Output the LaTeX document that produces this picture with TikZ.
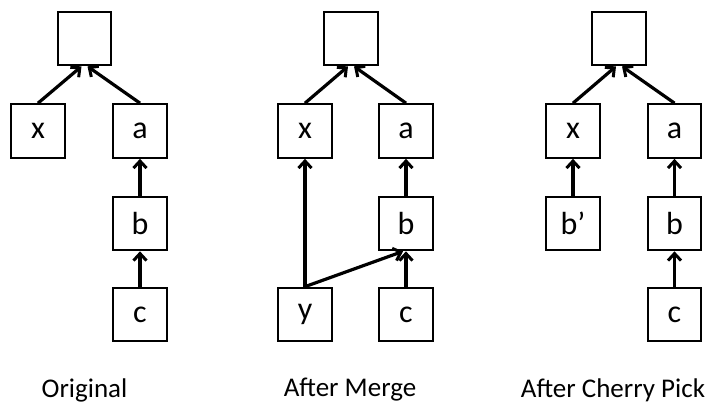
\documentclass[tikz,border=0pt]{standalone}
\usepackage{fontspec}
\setmainfont{Carlito}
\usetikzlibrary{arrows.meta}
\tikzset{
  commit/.style={draw, line width=2.2pt, minimum size=53.5pt, inner sep=0pt,
    font=\fontsize{32}{34}\selectfont},
  link/.style={line width=3.2pt, -{Straight Barb[length=7pt,width=13pt,line width=3pt]}},
  caption/.style={font=\fontsize{27}{30}\selectfont, inner sep=0pt}
}
\begin{document}
\begin{tikzpicture}[x=1pt,y=-1pt]
\useasboundingbox (0,0) rectangle (715,405);

% Original
\node[commit] (t1) at (84.5,38.5) {};
\node[commit] (x1) at (38,131) {x};
\node[commit] (a1) at (140,131) {a};
\node[commit] (b1) at (140,223.5) {b};
\node[commit] (c1) at (140,314.5) {c};
\draw[link] (x1.north) -- ([xshift=-3pt]t1.south);
\draw[link] (a1.north) -- ([xshift=3pt]t1.south);
\draw[link] (b1.north) -- (a1.south);
\draw[link] (c1.north) -- (b1.south);
\node[caption] (cap1) at (84.5,390) {Original};

% After Merge
\node[commit] (t2) at (351,38.5) {};
\node[commit] (x2) at (305,131) {x};
\node[commit] (a2) at (406,131) {a};
\node[commit] (b2) at (406,223.5) {b};
\node[commit] (y2) at (305,314.5) {y};
\node[commit] (c2) at (406,314.5) {c};
\draw[link] (x2.north) -- ([xshift=-3pt]t2.south);
\draw[link] (a2.north) -- ([xshift=3pt]t2.south);
\draw[link] (b2.north) -- (a2.south);
\draw[link] (c2.north) -- (b2.south);
\draw[link] (y2.north) -- (x2.south);
\draw[link] (y2.north) -- ([xshift=-3pt]b2.south);
\node[caption] (cap2) at (350,390) {After Merge};

% After Cherry Pick
\node[commit] (t3) at (619,38.5) {};
\node[commit] (x3) at (573,131) {x};
\node[commit] (a3) at (674.5,131) {a};
\node[commit] (bp3) at (573,223.5) {b’};
\node[commit] (b3) at (674.5,223.5) {b};
\node[commit] (c3) at (674.5,314.5) {c};
\draw[link] (x3.north) -- ([xshift=-3pt]t3.south);
\draw[link] (a3.north) -- ([xshift=3pt]t3.south);
\draw[link] (bp3.north) -- (x3.south);
\draw[link] (b3.north) -- (a3.south);
\draw[link] (c3.north) -- (b3.south);
\node[caption] (cap3) at (613,390) {After Cherry Pick};
\end{tikzpicture}
\end{document}
